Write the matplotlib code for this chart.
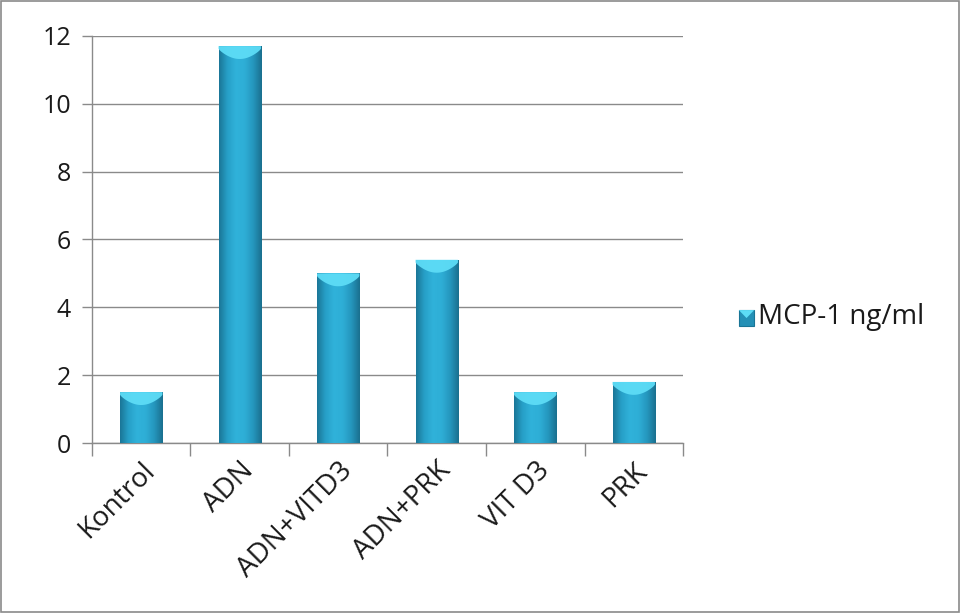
import numpy as np
import matplotlib.pyplot as plt
from matplotlib.patches import Rectangle, Polygon
from matplotlib.colors import LinearSegmentedColormap

plt.rcParams['font.family'] = ['Open Sans', 'DejaVu Sans']

groups = ['Kontrol', 'ADN', 'ADN+VITD3', 'ADN+PRK', 'VIT D3', 'PRK']
mcp1 = [1.5, 11.7, 5.0, 5.4, 1.5, 1.8]
series_label = 'MCP-1 ng/ml'

# side-to-side shading for the cylinder look
shade = LinearSegmentedColormap.from_list(
    'bar_shade', ['#1a7596', '#27a0c8', '#30b2da', '#2eaed6', '#2596bd', '#1a6f8e'])
grad = np.linspace(0, 1, 256).reshape(1, -1)

fig = plt.figure(figsize=(9.62, 6.14), dpi=100)
ax = fig.add_axes([0.0956, 0.2785, 0.6144, 0.663])

x = np.arange(len(groups))
width = 0.43
bars = ax.bar(x, mcp1, width=width, color='#27a0c8', edgecolor='none', zorder=3)

for b, v in zip(bars, mcp1):
    x0, w = b.get_x(), b.get_width()
    im = ax.imshow(grad, cmap=shade, aspect='auto', extent=(x0, x0 + w, 0, v),
                   zorder=3.1, interpolation='bicubic')
    im.set_clip_path(b)
    # lighter curved cap on top of each bar
    t = np.linspace(0, 1, 40)
    depth = 0.08 + 0.3 * np.sin(np.pi * t) ** 0.8
    pts = [(x0, v), (x0 + w, v)] + list(zip(x0 + w * t[::-1], v - depth[::-1]))
    ax.add_patch(Polygon(pts, closed=True, facecolor='#5ddcf6', edgecolor='none',
                         alpha=0.95, zorder=3.2))

ax.set_xlim(-0.5, len(groups) - 0.5)
ax.set_ylim(0, 12)
ax.set_yticks(range(0, 13, 2))
ax.yaxis.grid(True, color='#8a8a8a', linewidth=1.0, zorder=0)
ax.set_axisbelow(True)

ax.set_xticks(x)
ax.set_xticklabels(groups, rotation=45, ha='right', rotation_mode='anchor',
                   fontsize=20, color='#1a1a1a')
ax.tick_params(axis='x', length=0, pad=10)
ax.set_xticks(np.arange(-0.5, len(groups), 1), minor=True)
ax.tick_params(axis='x', which='minor', length=9, width=1, color='#8a8a8a', direction='out')
ax.tick_params(axis='y', length=7, width=1, color='#8a8a8a', labelsize=18,
               labelcolor='#1a1a1a', pad=8)

for side in ['top', 'right']:
    ax.spines[side].set_visible(False)
for side in ['left', 'bottom']:
    ax.spines[side].set_color('#8a8a8a')
    ax.spines[side].set_linewidth(1.0)

# legend entry
fig.patches.append(Rectangle((0.768, 0.469), 0.016, 0.026, transform=fig.transFigure,
                             facecolor='#2490b6', edgecolor='#1a7596', linewidth=0.8))
fig.patches.append(Polygon([(0.768, 0.495), (0.784, 0.495), (0.776, 0.482)],
                           closed=True, transform=fig.transFigure,
                           facecolor='#5ddcf6', edgecolor='none'))
fig.text(0.788, 0.484, series_label, fontsize=20, color='#1a1a1a', va='center')

# outer frame
fig.patches.append(Rectangle((0.001, 0.003), 0.996, 0.995, transform=fig.transFigure,
                             fill=False, edgecolor='#8a8a8a', linewidth=1.2))

fig.savefig('out.png', dpi=100)
